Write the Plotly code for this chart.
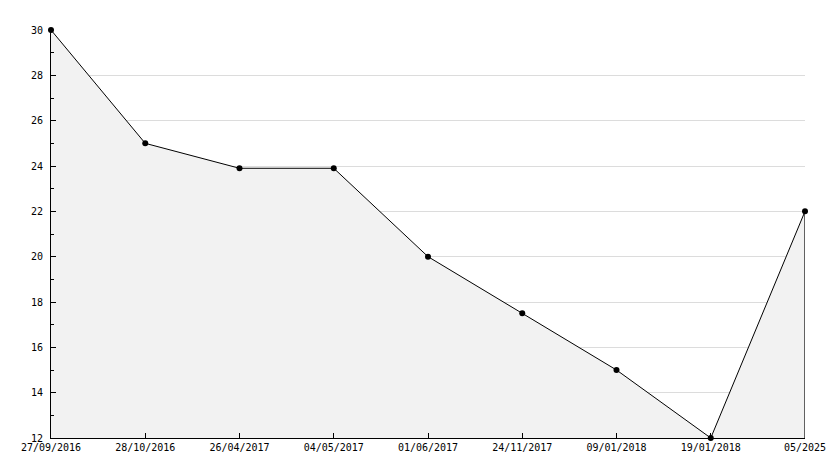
import plotly.graph_objects as go

dates = ["27/09/2016", "28/10/2016", "26/04/2017", "04/05/2017", "01/06/2017",
         "24/11/2017", "09/01/2018", "19/01/2018", "05/2025"]
values = [30, 25, 23.9, 23.9, 20, 17.5, 15, 12, 22]
y_min, y_max = 12, 30

fig = go.Figure()
fig.add_trace(go.Scatter(
    x=dates, y=values, mode="lines+markers",
    line=dict(color="black", width=1),
    marker=dict(color="black", size=6, symbol="circle"),
    fill="tozeroy", fillcolor="#f2f2f2",
    cliponaxis=False,
    hoverinfo="x+y", showlegend=False,
))
fig.add_trace(go.Scatter(
    x=[dates[-1], dates[-1]], y=[y_min, values[-1]], mode="lines",
    line=dict(color="black", width=1.2), showlegend=False, hoverinfo="skip",
    cliponaxis=False,
))

font = dict(family="DejaVu Sans Mono", size=10, color="black")
fig.update_layout(
    width=834, height=468,
    margin=dict(l=51, r=29, t=30, b=30, autoexpand=False),
    paper_bgcolor="white", plot_bgcolor="white",
    font=font,
    xaxis=dict(type="category", range=[0, len(dates) - 1], automargin=False,
               showline=True, linecolor="black", linewidth=1,
               ticks="inside", ticklen=5, tickcolor="black",
               showgrid=False, zeroline=False, tickfont=font),
    yaxis=dict(range=[y_min, y_max], dtick=2, tick0=12, automargin=False,
               showline=True, linecolor="black", linewidth=1,
               ticks="inside", ticklen=5, tickcolor="black",
               ticklabelstandoff=5,
               showgrid=True, gridcolor="#dcdcdc", gridwidth=1,
               zeroline=False, tickfont=font,
               minor=dict(dtick=1, ticks="inside", ticklen=3, tickcolor="black", showgrid=False)),
)
fig.write_html("out.html", config={"displayModeBar": False},
               post_script="document.body.style.margin='0';document.body.style.overflow='hidden';")
